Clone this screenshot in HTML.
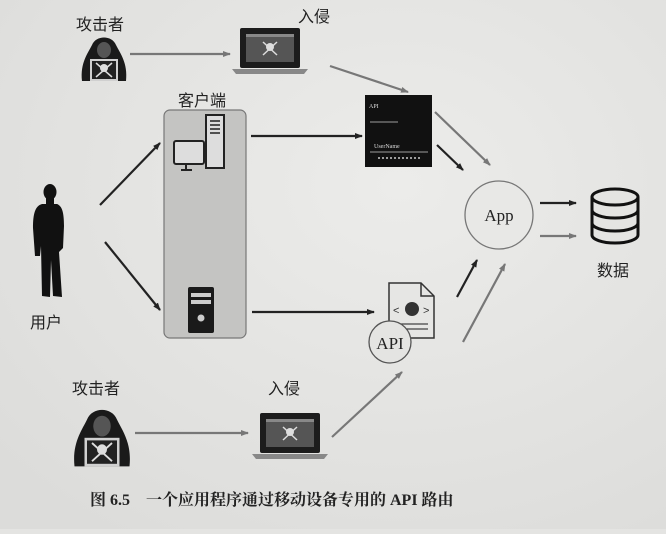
<!DOCTYPE html>
<html><head><meta charset="utf-8"><style>
html,body{margin:0;padding:0;}
body{width:666px;height:529px;background:#e4e4e2;overflow:hidden;font-family:"Liberation Sans","Noto Sans CJK SC",sans-serif;}
</style></head><body>
<svg width="666" height="529" viewBox="0 0 666 529" xmlns="http://www.w3.org/2000/svg">
<defs>
<radialGradient id="bg" cx="0.6" cy="0.35" r="0.8"><stop offset="0" stop-color="#ececea"/><stop offset="1" stop-color="#dcdcda"/></radialGradient>
<marker id="ab" markerWidth="8" markerHeight="8" refX="7" refY="4" orient="auto" markerUnits="userSpaceOnUse"><path d="M0,1 L8,4 L0,7z" fill="#222"/></marker>
<marker id="ag" markerWidth="8" markerHeight="8" refX="7" refY="4" orient="auto" markerUnits="userSpaceOnUse"><path d="M0,1 L8,4 L0,7z" fill="#777"/></marker>
<g id="hacker">
<path d="M2,48 C0,30 8,20 12,12 C16,2 32,2 36,12 C40,20 48,30 46,48z" fill="#1a1a1a"/>
<ellipse cx="24" cy="17" rx="7" ry="8" fill="#555"/>
<rect x="10" y="26" width="28" height="22" fill="#d0d0d0"/>
<rect x="12" y="28" width="24" height="18" fill="#222"/>
<circle cx="24" cy="35" r="4" fill="#ddd"/>
<path d="M16,30 L32,44 M32,30 L16,44" stroke="#ddd" stroke-width="1.5"/>
</g>
<g id="laptop">
<rect x="8" y="0" width="60" height="40" rx="2" fill="#1c1c1c"/>
<rect x="14" y="6" width="48" height="28" fill="#555"/>
<rect x="14" y="6" width="48" height="3" fill="#888"/>
<circle cx="38" cy="19" r="4" fill="#ddd"/>
<path d="M31,14 L45,27 M45,14 L31,27" stroke="#ddd" stroke-width="1.5"/>
<path d="M0,41 L76,41 L72,46 L4,46z" fill="#888"/>
</g>
</defs>
<rect width="666" height="529" fill="url(#bg)"/>
<g font-size="16" fill="#222">
<text x="76" y="30">攻击者</text>
<text x="298" y="22">入侵</text>
<text x="178" y="106">客户端</text>
<text x="30" y="328">用户</text>
<text x="597" y="276">数据</text>
<text x="72" y="394">攻击者</text>
<text x="268" y="394">入侵</text>
</g>
<use href="#hacker" x="80" y="33"/>
<use href="#laptop" x="232" y="28"/>
<use href="#hacker" transform="translate(72,404) scale(1.25,1.3)"/>
<use href="#laptop" x="252" y="413"/>
<rect x="164" y="110" width="82" height="228" rx="6" fill="#c4c4c2" stroke="#777" stroke-width="1.2"/>
<rect x="174" y="141" width="30" height="23" rx="2" fill="#ddd" stroke="#222" stroke-width="2"/>
<path d="M186,164 L186,169 M181,170 L192,170" stroke="#222" stroke-width="2"/>
<rect x="206" y="115" width="18" height="53" fill="#ddd" stroke="#222" stroke-width="2"/>
<path d="M210,121h10M210,125h10M210,129h10M210,133h10" stroke="#222" stroke-width="1.5"/>
<rect x="188" y="287" width="26" height="46" rx="2" fill="#1a1a1a"/>
<rect x="191" y="293" width="20" height="4" fill="#ccc"/><rect x="191" y="300" width="20" height="4" fill="#ccc"/>
<circle cx="201" cy="318" r="3.5" fill="#ccc"/>
<!-- person -->
<g fill="#111">
<ellipse cx="50" cy="192" rx="6.5" ry="8"/>
<rect x="46" y="198" width="8" height="8"/>
<path d="M42,204 C35,206 33,214 33,228 L35,256 L40,256 L41,246 L42,296 L50,297 L51,260 L53,296 L62,297 L59,252 L63,248 L64,226 C64,212 62,206 57,204z"/>
</g>
<rect x="365" y="95" width="67" height="72" fill="#111"/>
<text x="369" y="108" font-family="Liberation Serif" font-size="6" fill="#ddd">API</text>
<line x1="370" y1="122" x2="398" y2="122" stroke="#ccc" stroke-width="0.8"/>
<text x="374" y="148" font-family="Liberation Serif" font-size="6" fill="#ddd">UserName</text>
<line x1="370" y1="152" x2="428" y2="152" stroke="#ccc" stroke-width="0.8"/>
<line x1="378" y1="158" x2="422" y2="158" stroke="#ccc" stroke-width="1.5" stroke-dasharray="2,2"/>
<path d="M389,283 L421,283 L434,296 L434,338 L389,338z" fill="#e6e6e4" stroke="#333" stroke-width="1.5"/>
<path d="M421,283 L421,296 L434,296" fill="none" stroke="#333" stroke-width="1.5"/>
<circle cx="412" cy="309" r="7" fill="#333"/>
<text x="393" y="314" font-size="11" fill="#333">&lt;</text><text x="423" y="314" font-size="11" fill="#333">&gt;</text>
<path d="M400,324h28M400,329h28" stroke="#444" stroke-width="1.2"/>
<circle cx="390" cy="342" r="21" fill="#e4e4e2" stroke="#555" stroke-width="1.3"/>
<text x="390" y="349" font-family="Liberation Serif" font-size="17" text-anchor="middle" fill="#222">API</text>
<circle cx="499" cy="215" r="34" fill="#e8e8e6" stroke="#777" stroke-width="1.3"/>
<text x="499" y="221" font-family="Liberation Serif" font-size="17" text-anchor="middle" fill="#222">App</text>
<g fill="#e4e4e2" stroke="#111" stroke-width="3">
<path d="M592,197 v38 a23,8 0 0,0 46,0 v-38"/>
<ellipse cx="615" cy="197" rx="23" ry="8"/>
<path d="M592,210 a23,8 0 0,0 46,0 M592,223 a23,8 0 0,0 46,0" fill="none"/>
</g>
<g stroke-width="2.2" fill="none">
<line x1="130" y1="54" x2="230" y2="54" stroke="#777" marker-end="url(#ag)"/>
<line x1="330" y1="66" x2="408" y2="92" stroke="#777" marker-end="url(#ag)"/>
<line x1="100" y1="205" x2="160" y2="143" stroke="#222" marker-end="url(#ab)"/>
<line x1="105" y1="242" x2="160" y2="310" stroke="#222" marker-end="url(#ab)"/>
<line x1="251" y1="136" x2="362" y2="136" stroke="#222" marker-end="url(#ab)"/>
<line x1="252" y1="312" x2="374" y2="312" stroke="#222" marker-end="url(#ab)"/>
<line x1="435" y1="112" x2="490" y2="165" stroke="#777" marker-end="url(#ag)"/>
<line x1="437" y1="145" x2="463" y2="170" stroke="#222" marker-end="url(#ab)"/>
<line x1="457" y1="297" x2="477" y2="260" stroke="#222" marker-end="url(#ab)"/>
<line x1="463" y1="342" x2="505" y2="264" stroke="#777" marker-end="url(#ag)"/>
<line x1="540" y1="203" x2="576" y2="203" stroke="#222" marker-end="url(#ab)"/>
<line x1="540" y1="236" x2="576" y2="236" stroke="#777" marker-end="url(#ag)"/>
<line x1="135" y1="433" x2="248" y2="433" stroke="#777" marker-end="url(#ag)"/>
<line x1="332" y1="437" x2="402" y2="372" stroke="#777" marker-end="url(#ag)"/>
</g>
<text x="90" y="505" font-size="16" font-weight="bold" fill="#222" font-family="Liberation Serif,'Noto Serif CJK SC',serif">图 6.5　一个应用程序通过移动设备专用的 API 路由</text>
</svg>
</body></html>
